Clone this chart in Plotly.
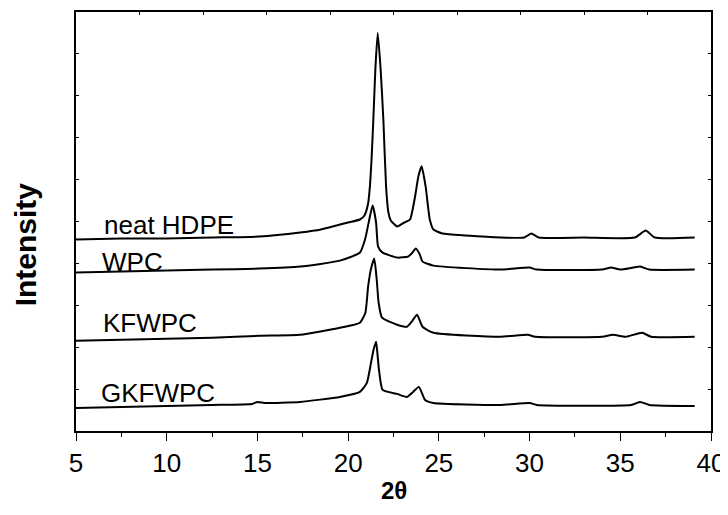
import plotly.graph_objects as go

# 2-theta (deg) and intensity (arbitrary, stacked offsets)
x_hdpe = [5.0, 7.5, 10.0, 12.5, 15.1, 17.35, 18.5, 19.55, 20.0, 20.65, 20.9, 21.1, 21.2, 21.3,
          21.39, 21.5, 21.63, 21.79, 21.94, 22.09, 22.22, 22.35, 22.5, 22.7, 23.1, 23.41, 23.69,
          23.87, 24.05, 24.27, 24.5, 24.7, 25.2, 26.5, 28.4, 29.7, 30.1, 30.5, 33.0, 35.8, 36.4,
          36.9, 39.1]
y_hdpe = [191, 192, 192, 193, 194, 198, 201, 206, 208, 211, 215, 227, 244, 275,
          311, 361, 397, 361, 311, 244, 218, 210, 207, 204, 208, 211, 234,
          254, 264, 244, 211, 201, 197, 195, 193, 193, 197, 193, 193, 193, 200,
          193, 193]

x_wpc = [5.0, 7.5, 10.0, 12.5, 15.1, 17.35, 19.55, 20.65, 20.93, 21.2, 21.35, 21.54, 21.65,
         21.9, 22.7, 23.3, 23.5, 23.73, 23.95, 24.1, 24.7, 28.4, 30.0, 30.4, 34.0, 34.5,
         35.0, 36.1, 36.6, 39.1]
y_wpc = [158, 159, 160, 161, 162, 164, 170, 178, 191, 214, 225, 208, 184,
         178, 173, 174, 177, 182, 176, 169, 165, 161, 163, 161, 161, 163,
         161, 164, 161, 161]

x_kf = [5.0, 7.5, 10.0, 12.5, 15.1, 17.35, 19.55, 20.65, 20.95, 21.1, 21.25, 21.44, 21.58,
        21.68, 21.87, 22.7, 23.24, 23.5, 23.8, 24.1, 24.7, 28.4, 29.9, 30.3, 34.0, 34.6,
        35.3, 36.2, 36.7, 39.1]
y_kf = [90, 91, 92, 93, 95, 96, 103, 108, 118, 144, 161, 172, 150,
        128, 113, 106, 104, 109, 116, 104, 98, 94, 96, 94, 94, 96,
        94, 98, 94, 94]

x_gkf = [5.0, 7.5, 10.0, 12.5, 14.7, 15.0, 15.4, 17.35, 19.55, 20.65, 21.03, 21.26, 21.4,
         21.54, 21.62, 21.7, 21.9, 22.7, 23.24, 23.58, 23.9, 24.24, 24.7, 28.4, 30.0, 30.4,
         35.6, 36.1, 36.6, 39.1]
y_gkf = [23, 24, 25, 26, 27, 29, 28, 29, 34, 39, 48, 68, 81,
         89, 76, 61, 41, 37, 34, 39, 44, 31, 28, 26, 28, 26,
         26, 29, 26, 25]

series = [("neat HDPE", x_hdpe, y_hdpe), ("WPC", x_wpc, y_wpc),
          ("KFWPC", x_kf, y_kf), ("GKFWPC", x_gkf, y_gkf)]

# label anchor positions (2theta, intensity)
label_x = [6.45, 6.35, 6.4, 6.25]
label_y = [206, 169, 108, 38]

FONT = "Liberation Sans, Arial, sans-serif"

fig = go.Figure()
for name, xs, ys in series:
    fig.add_trace(go.Scatter(x=xs, y=ys, mode="lines", name=name,
                             line=dict(color="black", width=2, shape="spline", smoothing=0.5),
                             showlegend=False))

# hidden trace to activate top axis
fig.add_trace(go.Scatter(x=[0, 10], y=[0, 0], xaxis="x2", mode="lines",
                         line=dict(width=0), hoverinfo="skip", showlegend=False))

for (name, _, _), lx, ly in zip(series, label_x, label_y):
    fig.add_annotation(x=lx, y=ly, text=name, showarrow=False, xanchor="left", yanchor="middle",
                       font=dict(family=FONT, size=26, color="black"))

fig.add_annotation(xref="paper", yref="paper", x=0.5, y=-0.143, text="<b>2θ</b>",
                   showarrow=False, xanchor="center", yanchor="middle",
                   font=dict(family=FONT, size=24, color="black"))
fig.add_annotation(xref="paper", yref="paper", x=-0.08, y=0.446, text="<b>Intensity</b>",
                   textangle=-90, showarrow=False, xanchor="center", yanchor="middle",
                   font=dict(family=FONT, size=30, color="black"))

# the page body adds an 8px margin, so the figure is sized and offset to compensate
fig.update_layout(
    width=720, height=499,
    margin=dict(l=68, r=17, t=4, b=76, pad=0),
    plot_bgcolor="white", paper_bgcolor="white",
    font=dict(family=FONT, color="black"),
    xaxis=dict(range=[5, 40], dtick=5, tick0=5, ticks="outside", ticklen=8, tickwidth=1.3,
               tickcolor="black", showline=True, linecolor="black", linewidth=1.6,
               mirror=True, showgrid=False, zeroline=False, automargin=False,
               tickfont=dict(family=FONT, size=26, color="black"),
               minor=dict(dtick=2.5, tick0=5, ticks="outside", ticklen=4, tickcolor="black",
                          tickwidth=1.3, showgrid=False)),
    xaxis2=dict(range=[0, 10], dtick=1, overlaying="x", side="top", ticks="inside",
                ticklen=3, tickcolor="black", showticklabels=False, showgrid=False,
                zeroline=False, showline=False, automargin=False),
    yaxis=dict(range=[0, 418], dtick=41.8, tick0=0, ticks="inside", ticklen=3, tickcolor="black",
               showticklabels=False, showline=True, linecolor="black", linewidth=1.6,
               mirror="ticks", showgrid=False, zeroline=False, automargin=False),
)

fig.write_html("out.html")
